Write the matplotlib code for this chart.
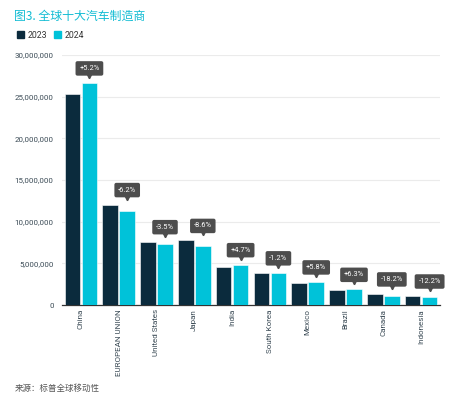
import matplotlib
matplotlib.use("Agg")
import matplotlib.pyplot as plt
import matplotlib.transforms as mtransforms
import numpy as np
from matplotlib.ticker import FuncFormatter, MultipleLocator

plt.rcParams['font.family'] = ['Liberation Sans Narrow', 'Roboto', 'Noto Sans CJK SC', 'DejaVu Sans']

# data
countries = ["China", "EUROPEAN UNION", "United States", "Japan", "India",
             "South Korea", "Mexico", "Brazil", "Canada", "Indonesia"]
sales_2023 = [25300000, 12050000, 7600000, 7750000, 4620000,
              3860000, 2610000, 1770000, 1330000, 1080000]
sales_2024 = [26650000, 11300000, 7350000, 7080000, 4840000,
              3810000, 2770000, 1880000, 1090000, 950000]
changes = ["+5.2%", "-6.2%", "-3.5%", "-8.6%", "+4.7%",
           "-1.2%", "+5.8%", "+6.3%", "-18.2%", "-12.2%"]

c23 = "#0b2b3d"
c24 = "#00c2d9"

fig = plt.figure(figsize=(4.54, 4.0), dpi=100)
ax = fig.add_axes([62/454, 1 - 305/400, 378/454, 250/400])

x = np.arange(len(countries))
w = 0.41
ax.bar(x - 0.225, sales_2023, w, color=c23, edgecolor="white", linewidth=0.4, zorder=3, label="2023")
ax.bar(x + 0.225, sales_2024, w, color=c24, edgecolor="white", linewidth=0.4, zorder=3, label="2024")

ax.set_xlim(-0.5, len(countries) - 0.5)
ax.set_ylim(0, 30000000)
ax.yaxis.set_major_locator(MultipleLocator(5000000))
ax.yaxis.set_major_formatter(FuncFormatter(lambda v, p: "{:,.0f}".format(v)))
ax.grid(axis="y", color="#ebebeb", linewidth=0.8, zorder=0)
for s in ["top", "right", "left"]:
    ax.spines[s].set_visible(False)
ax.spines["bottom"].set_color("#333333")
ax.spines["bottom"].set_linewidth(0.9)
ax.tick_params(axis="y", length=0, labelsize=5.7, labelcolor="#3a4a55", pad=6)
ax.tick_params(axis="x", length=0, labelsize=5.8, labelcolor="#3a4a55", pad=3)
ax.set_xticks(x)
ax.set_xticklabels(countries, rotation=90, va="top", ha="center")

# change labels (dark boxes with a small pointer)
for i in range(len(countries)):
    top = max(sales_2023[i], sales_2024[i])
    xi = x[i] + 0.225
    ax.plot(xi, top, marker="v", markersize=3.2, color="#4d4d4d",
            transform=mtransforms.offset_copy(ax.transData, fig=fig, x=0, y=7, units="dots"),
            clip_on=False, zorder=5)
    ax.annotate(changes[i], xy=(xi, top), xytext=(0, 11), textcoords="offset pixels",
                ha="center", va="bottom", fontsize=5.4, color="white", zorder=6,
                bbox=dict(boxstyle="round,pad=0.5,rounding_size=0.25", fc="#4d4d4d", ec="none"),
                annotation_clip=False)

fig.text(14/454, 1 - 16/400, "图3. 全球十大汽车制造商", fontsize=8.6, color="#12bcd3",
         family=["Noto Sans CJK SC", "DejaVu Sans"], va="center", ha="left")

# legend
h = [plt.Rectangle((0, 0), 1, 1, color=c23), plt.Rectangle((0, 0), 1, 1, color=c24)]
fig.legend(h, ["2023", "2024"], loc="center left", bbox_to_anchor=(17/454, 1 - 35/400),
           ncol=2, frameon=False, fontsize=6.3, handlelength=0.8, handleheight=0.8,
           handletextpad=0.4, columnspacing=0.8, borderpad=0, borderaxespad=0,
           labelcolor="#333333")

fig.text(15/454, 1 - 388/400, "来源：标普全球移动性", fontsize=6.1, color="#555555",
         family=["Noto Sans CJK SC", "DejaVu Sans"], va="center", ha="left")

fig.savefig("out.png", dpi=100, facecolor="white")
